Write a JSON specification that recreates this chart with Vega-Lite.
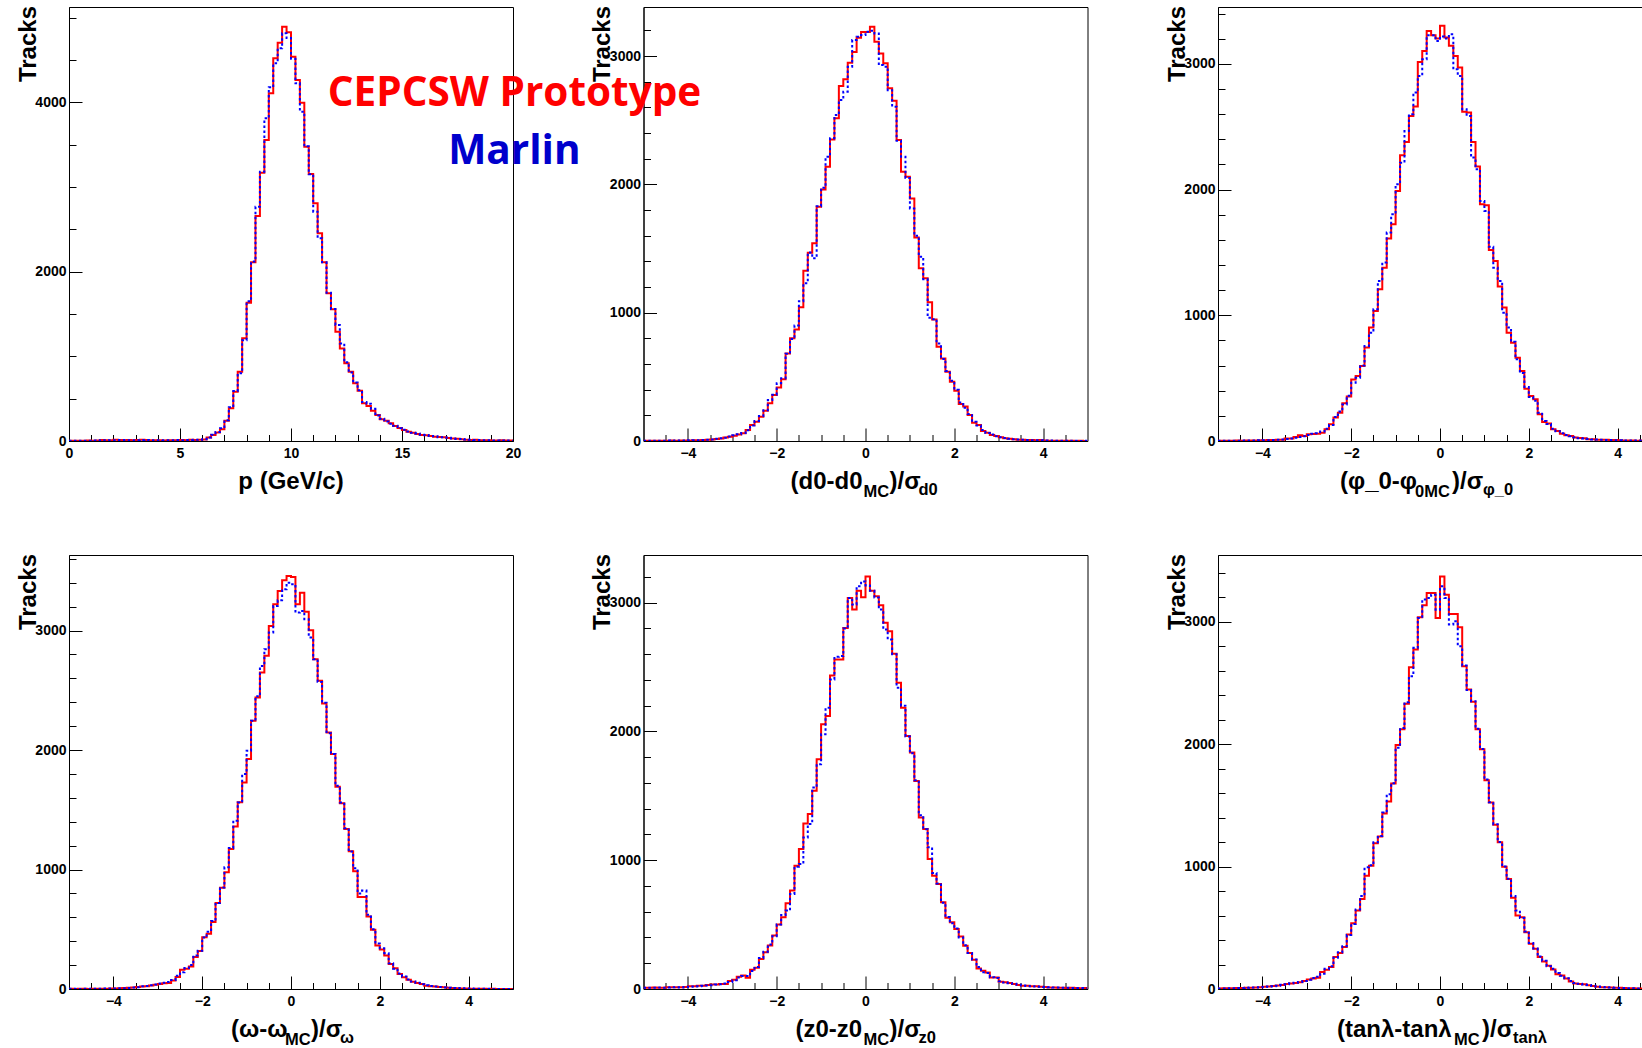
{
"$schema": "https://vega.github.io/schema/vega-lite/v6.json",
"autosize": {"type": "none"},
"padding": {"left": 69, "top": 7, "right": 1573, "bottom": 1041},
"background": "white",
"config": {
  "view": {"stroke": "#000", "strokeWidth": 1},
  "axis": {"grid": false, "labelFont": "Liberation Sans", "labelFontSize": 14, "labelFontWeight": "bold", "labelColor": "#000", "tickColor": "#000", "tickWidth": 1, "domainColor": "#000", "domainWidth": 1, "labelFlush": false, "labelOverlap": false, "titleFont": "Liberation Sans", "titleFontSize": 24, "titleFontWeight": "bold", "titleColor": "#000", "format": "d"},
  "text": {"font": "Liberation Sans", "fontWeight": "bold", "color": "#000"}
},
"datasets": {
"p1": [
{"x":0,"cepcsw":3,"marlin":2},{"x":0.2,"cepcsw":2,"marlin":3},{"x":0.4,"cepcsw":4,"marlin":3},{"x":0.6,"cepcsw":3,"marlin":4},{"x":0.8,"cepcsw":5,"marlin":4},{"x":1,"cepcsw":4,"marlin":6},{"x":1.2,"cepcsw":6,"marlin":5},{"x":1.4,"cepcsw":12,"marlin":8},{"x":1.6,"cepcsw":10,"marlin":9},{"x":1.8,"cepcsw":8,"marlin":10},
{"x":2,"cepcsw":14,"marlin":10},{"x":2.2,"cepcsw":12,"marlin":12},{"x":2.4,"cepcsw":10,"marlin":11},{"x":2.6,"cepcsw":12,"marlin":9},{"x":2.8,"cepcsw":9,"marlin":10},{"x":3,"cepcsw":11,"marlin":9},{"x":3.2,"cepcsw":14,"marlin":12},{"x":3.4,"cepcsw":12,"marlin":13},{"x":3.6,"cepcsw":9,"marlin":10},{"x":3.8,"cepcsw":10,"marlin":9},
{"x":4,"cepcsw":8,"marlin":9},{"x":4.2,"cepcsw":7,"marlin":8},{"x":4.4,"cepcsw":9,"marlin":8},{"x":4.6,"cepcsw":8,"marlin":9},{"x":4.8,"cepcsw":10,"marlin":11},{"x":5,"cepcsw":12,"marlin":10},{"x":5.2,"cepcsw":10,"marlin":12},{"x":5.4,"cepcsw":14,"marlin":13},{"x":5.6,"cepcsw":12,"marlin":14},{"x":5.8,"cepcsw":14,"marlin":16},
{"x":6,"cepcsw":18,"marlin":22},{"x":6.2,"cepcsw":40,"marlin":42},{"x":6.4,"cepcsw":70,"marlin":75},{"x":6.6,"cepcsw":100,"marlin":105},{"x":6.8,"cepcsw":140,"marlin":150},{"x":7,"cepcsw":240,"marlin":245},{"x":7.2,"cepcsw":386,"marlin":400},{"x":7.4,"cepcsw":583,"marlin":590},{"x":7.6,"cepcsw":819,"marlin":800},{"x":7.8,"cepcsw":1213,"marlin":1190},
{"x":8,"cepcsw":1634,"marlin":1650},{"x":8.2,"cepcsw":2110,"marlin":2120},{"x":8.4,"cepcsw":2657,"marlin":2767},{"x":8.6,"cepcsw":3169,"marlin":3180},{"x":8.8,"cepcsw":3555,"marlin":3811},{"x":9,"cepcsw":4106,"marlin":4177},{"x":9.2,"cepcsw":4520,"marlin":4461},{"x":9.4,"cepcsw":4705,"marlin":4638},{"x":9.6,"cepcsw":4894,"marlin":4815},{"x":9.8,"cepcsw":4827,"marlin":4760},
{"x":10,"cepcsw":4539,"marlin":4516},{"x":10.2,"cepcsw":4264,"marlin":4224},{"x":10.4,"cepcsw":3996,"marlin":3890},{"x":10.6,"cepcsw":3476,"marlin":3480},{"x":10.8,"cepcsw":3154,"marlin":3150},{"x":11,"cepcsw":2807,"marlin":2709},{"x":11.2,"cepcsw":2453,"marlin":2394},{"x":11.4,"cepcsw":2110,"marlin":2110},{"x":11.6,"cepcsw":1744,"marlin":1750},{"x":11.8,"cepcsw":1555,"marlin":1560},
{"x":12,"cepcsw":1291,"marlin":1370},{"x":12.2,"cepcsw":1094,"marlin":1153},{"x":12.4,"cepcsw":917,"marlin":930},{"x":12.6,"cepcsw":819,"marlin":810},{"x":12.8,"cepcsw":681,"marlin":690},{"x":13,"cepcsw":594,"marlin":600},{"x":13.2,"cepcsw":445,"marlin":460},{"x":13.4,"cepcsw":413,"marlin":440},{"x":13.6,"cepcsw":358,"marlin":380},{"x":13.8,"cepcsw":307,"marlin":300},
{"x":14,"cepcsw":256,"marlin":262},{"x":14.2,"cepcsw":240,"marlin":230},{"x":14.4,"cepcsw":209,"marlin":205},{"x":14.6,"cepcsw":177,"marlin":180},{"x":14.8,"cepcsw":154,"marlin":150},{"x":15,"cepcsw":130,"marlin":132},{"x":15.2,"cepcsw":110,"marlin":112},{"x":15.4,"cepcsw":98,"marlin":96},{"x":15.6,"cepcsw":83,"marlin":90},{"x":15.8,"cepcsw":71,"marlin":75},
{"x":16,"cepcsw":67,"marlin":72},{"x":16.2,"cepcsw":59,"marlin":60},{"x":16.4,"cepcsw":51,"marlin":55},{"x":16.6,"cepcsw":47,"marlin":45},{"x":16.8,"cepcsw":43,"marlin":44},{"x":17,"cepcsw":35,"marlin":38},{"x":17.2,"cepcsw":31,"marlin":30},{"x":17.4,"cepcsw":28,"marlin":25},{"x":17.6,"cepcsw":20,"marlin":25},{"x":17.8,"cepcsw":16,"marlin":18},
{"x":18,"cepcsw":12,"marlin":14},{"x":18.2,"cepcsw":14,"marlin":12},{"x":18.4,"cepcsw":10,"marlin":11},{"x":18.6,"cepcsw":8,"marlin":9},{"x":18.8,"cepcsw":9,"marlin":8},{"x":19,"cepcsw":7,"marlin":6},{"x":19.2,"cepcsw":6,"marlin":7},{"x":19.4,"cepcsw":8,"marlin":6},{"x":19.6,"cepcsw":5,"marlin":5},{"x":19.8,"cepcsw":6,"marlin":4},
{"x":20,"cepcsw":6,"marlin":4}
],
"p2": [
{"x":-5,"cepcsw":2,"marlin":1},{"x":-4.9,"cepcsw":1,"marlin":2},{"x":-4.8,"cepcsw":2,"marlin":1},{"x":-4.7,"cepcsw":1,"marlin":2},{"x":-4.6,"cepcsw":2,"marlin":2},{"x":-4.5,"cepcsw":2,"marlin":3},{"x":-4.4,"cepcsw":3,"marlin":2},{"x":-4.3,"cepcsw":2,"marlin":3},{"x":-4.2,"cepcsw":3,"marlin":4},{"x":-4.1,"cepcsw":4,"marlin":3},
{"x":-4,"cepcsw":4,"marlin":5},{"x":-3.9,"cepcsw":5,"marlin":6},{"x":-3.8,"cepcsw":6,"marlin":5},{"x":-3.7,"cepcsw":7,"marlin":8},{"x":-3.6,"cepcsw":9,"marlin":10},{"x":-3.5,"cepcsw":12,"marlin":11},{"x":-3.4,"cepcsw":16,"marlin":18},{"x":-3.3,"cepcsw":20,"marlin":22},{"x":-3.2,"cepcsw":27,"marlin":26},{"x":-3.1,"cepcsw":33,"marlin":35},
{"x":-3,"cepcsw":40,"marlin":44},{"x":-2.9,"cepcsw":50,"marlin":52},{"x":-2.8,"cepcsw":60,"marlin":62},{"x":-2.7,"cepcsw":86,"marlin":84},{"x":-2.6,"cepcsw":125,"marlin":120},{"x":-2.5,"cepcsw":151,"marlin":155},{"x":-2.4,"cepcsw":190,"marlin":195},{"x":-2.3,"cepcsw":236,"marlin":240},{"x":-2.2,"cepcsw":294,"marlin":320},{"x":-2.1,"cepcsw":359,"marlin":360},
{"x":-2,"cepcsw":418,"marlin":450},{"x":-1.9,"cepcsw":481,"marlin":490},{"x":-1.8,"cepcsw":683,"marlin":680},{"x":-1.7,"cepcsw":800,"marlin":795},{"x":-1.6,"cepcsw":870,"marlin":900},{"x":-1.5,"cepcsw":1042,"marlin":1090},{"x":-1.4,"cepcsw":1328,"marlin":1230},{"x":-1.3,"cepcsw":1468,"marlin":1470},{"x":-1.2,"cepcsw":1541,"marlin":1424},{"x":-1.1,"cepcsw":1826,"marlin":1830},
{"x":-1,"cepcsw":1961,"marlin":1975},{"x":-0.9,"cepcsw":2138,"marlin":2216},{"x":-0.8,"cepcsw":2351,"marlin":2360},{"x":-0.7,"cepcsw":2515,"marlin":2541},{"x":-0.6,"cepcsw":2767,"marlin":2658},{"x":-0.5,"cepcsw":2819,"marlin":2723},{"x":-0.4,"cepcsw":2949,"marlin":2918},{"x":-0.3,"cepcsw":3032,"marlin":3125},{"x":-0.2,"cepcsw":3144,"marlin":3151},{"x":-0.1,"cepcsw":3188,"marlin":3164},
{"x":0,"cepcsw":3188,"marlin":3190},{"x":0.1,"cepcsw":3229,"marlin":3198},{"x":0.2,"cepcsw":3112,"marlin":3177},{"x":0.3,"cepcsw":3021,"marlin":2930},{"x":0.4,"cepcsw":2944,"marlin":2918},{"x":0.5,"cepcsw":2749,"marlin":2735},{"x":0.6,"cepcsw":2653,"marlin":2606},{"x":0.7,"cepcsw":2346,"marlin":2340},{"x":0.8,"cepcsw":2099,"marlin":2216},{"x":0.9,"cepcsw":2060,"marlin":2050},
{"x":1,"cepcsw":1891,"marlin":1813},{"x":1.1,"cepcsw":1587,"marlin":1600},{"x":1.2,"cepcsw":1346,"marlin":1437},{"x":1.3,"cepcsw":1268,"marlin":1260},{"x":1.4,"cepcsw":1081,"marlin":960},{"x":1.5,"cepcsw":948,"marlin":950},{"x":1.6,"cepcsw":735,"marlin":760},{"x":1.7,"cepcsw":644,"marlin":640},{"x":1.8,"cepcsw":540,"marlin":545},{"x":1.9,"cepcsw":462,"marlin":470},
{"x":2,"cepcsw":392,"marlin":400},{"x":2.1,"cepcsw":288,"marlin":300},{"x":2.2,"cepcsw":268,"marlin":260},{"x":2.3,"cepcsw":203,"marlin":210},{"x":2.4,"cepcsw":143,"marlin":150},{"x":2.5,"cepcsw":125,"marlin":120},{"x":2.6,"cepcsw":78,"marlin":85},{"x":2.7,"cepcsw":65,"marlin":62},{"x":2.8,"cepcsw":47,"marlin":50},{"x":2.9,"cepcsw":39,"marlin":38},
{"x":3,"cepcsw":29,"marlin":30},{"x":3.1,"cepcsw":21,"marlin":24},{"x":3.2,"cepcsw":18,"marlin":17},{"x":3.3,"cepcsw":13,"marlin":14},{"x":3.4,"cepcsw":10,"marlin":11},{"x":3.5,"cepcsw":10,"marlin":9},{"x":3.6,"cepcsw":8,"marlin":7},{"x":3.7,"cepcsw":8,"marlin":6},{"x":3.8,"cepcsw":5,"marlin":6},{"x":3.9,"cepcsw":8,"marlin":5},
{"x":4,"cepcsw":3,"marlin":4},{"x":4.1,"cepcsw":2,"marlin":3},{"x":4.2,"cepcsw":2,"marlin":2},{"x":4.3,"cepcsw":1,"marlin":2},{"x":4.4,"cepcsw":2,"marlin":1},{"x":4.5,"cepcsw":1,"marlin":1},{"x":4.6,"cepcsw":1,"marlin":2},{"x":4.7,"cepcsw":0,"marlin":1},{"x":4.8,"cepcsw":1,"marlin":0},{"x":4.9,"cepcsw":0,"marlin":1},
{"x":5,"cepcsw":0,"marlin":1}
],
"p3": [
{"x":-5,"cepcsw":1,"marlin":2},{"x":-4.9,"cepcsw":2,"marlin":1},{"x":-4.8,"cepcsw":2,"marlin":2},{"x":-4.7,"cepcsw":1,"marlin":2},{"x":-4.6,"cepcsw":3,"marlin":2},{"x":-4.5,"cepcsw":2,"marlin":3},{"x":-4.4,"cepcsw":4,"marlin":3},{"x":-4.3,"cepcsw":3,"marlin":4},{"x":-4.2,"cepcsw":4,"marlin":4},{"x":-4.1,"cepcsw":5,"marlin":5},
{"x":-4,"cepcsw":5,"marlin":6},{"x":-3.9,"cepcsw":7,"marlin":6},{"x":-3.8,"cepcsw":8,"marlin":8},{"x":-3.7,"cepcsw":10,"marlin":9},{"x":-3.6,"cepcsw":10,"marlin":12},{"x":-3.5,"cepcsw":19,"marlin":15},{"x":-3.4,"cepcsw":19,"marlin":20},{"x":-3.3,"cepcsw":32,"marlin":25},{"x":-3.2,"cepcsw":45,"marlin":32},{"x":-3.1,"cepcsw":40,"marlin":38},
{"x":-3,"cepcsw":53,"marlin":48},{"x":-2.9,"cepcsw":55,"marlin":58},{"x":-2.8,"cepcsw":58,"marlin":62},{"x":-2.7,"cepcsw":66,"marlin":75},{"x":-2.6,"cepcsw":93,"marlin":98},{"x":-2.5,"cepcsw":133,"marlin":128},{"x":-2.4,"cepcsw":186,"marlin":190},{"x":-2.3,"cepcsw":225,"marlin":235},{"x":-2.2,"cepcsw":300,"marlin":290},{"x":-2.1,"cepcsw":353,"marlin":360},
{"x":-2,"cepcsw":490,"marlin":464},{"x":-1.9,"cepcsw":517,"marlin":504},{"x":-1.8,"cepcsw":597,"marlin":600},{"x":-1.7,"cepcsw":743,"marlin":756},{"x":-1.6,"cepcsw":902,"marlin":862},{"x":-1.5,"cepcsw":1034,"marlin":1048},{"x":-1.4,"cepcsw":1207,"marlin":1273},{"x":-1.3,"cepcsw":1379,"marlin":1419},{"x":-1.2,"cepcsw":1610,"marlin":1658},{"x":-1.1,"cepcsw":1724,"marlin":1803},
{"x":-1,"cepcsw":1989,"marlin":2042},{"x":-0.9,"cepcsw":2273,"marlin":2214},{"x":-0.8,"cepcsw":2379,"marlin":2466},{"x":-0.7,"cepcsw":2586,"marlin":2599},{"x":-0.6,"cepcsw":2660,"marlin":2771},{"x":-0.5,"cepcsw":3015,"marlin":2904},{"x":-0.4,"cepcsw":3103,"marlin":3036},{"x":-0.3,"cepcsw":3262,"marlin":3228},{"x":-0.2,"cepcsw":3228,"marlin":3228},{"x":-0.1,"cepcsw":3201,"marlin":3182},
{"x":0,"cepcsw":3302,"marlin":3217},{"x":0.1,"cepcsw":3209,"marlin":3201},{"x":0.2,"cepcsw":3143,"marlin":3235},{"x":0.3,"cepcsw":3063,"marlin":2957},{"x":0.4,"cepcsw":2970,"marlin":2904},{"x":0.5,"cepcsw":2618,"marlin":2639},{"x":0.6,"cepcsw":2612,"marlin":2586},{"x":0.7,"cepcsw":2379,"marlin":2254},{"x":0.8,"cepcsw":2183,"marlin":2161},{"x":0.9,"cepcsw":1883,"marlin":1909},
{"x":1,"cepcsw":1875,"marlin":1830},{"x":1.1,"cepcsw":1520,"marlin":1545},{"x":1.2,"cepcsw":1432,"marlin":1379},{"x":1.3,"cepcsw":1228,"marlin":1273},{"x":1.4,"cepcsw":1061,"marlin":1021},{"x":1.5,"cepcsw":862,"marlin":902},{"x":1.6,"cepcsw":782,"marlin":790},{"x":1.7,"cepcsw":663,"marlin":650},{"x":1.8,"cepcsw":557,"marlin":540},{"x":1.9,"cepcsw":416,"marlin":430},
{"x":2,"cepcsw":358,"marlin":350},{"x":2.1,"cepcsw":332,"marlin":320},{"x":2.2,"cepcsw":212,"marlin":225},{"x":2.3,"cepcsw":151,"marlin":160},{"x":2.4,"cepcsw":140,"marlin":135},{"x":2.5,"cepcsw":93,"marlin":98},{"x":2.6,"cepcsw":80,"marlin":78},{"x":2.7,"cepcsw":58,"marlin":62},{"x":2.8,"cepcsw":45,"marlin":48},{"x":2.9,"cepcsw":40,"marlin":38},
{"x":3,"cepcsw":27,"marlin":30},{"x":3.1,"cepcsw":24,"marlin":22},{"x":3.2,"cepcsw":21,"marlin":20},{"x":3.3,"cepcsw":13,"marlin":16},{"x":3.4,"cepcsw":13,"marlin":12},{"x":3.5,"cepcsw":10,"marlin":11},{"x":3.6,"cepcsw":10,"marlin":9},{"x":3.7,"cepcsw":9,"marlin":8},{"x":3.8,"cepcsw":8,"marlin":7},{"x":3.9,"cepcsw":7,"marlin":6},
{"x":4,"cepcsw":5,"marlin":5},{"x":4.1,"cepcsw":4,"marlin":4},{"x":4.2,"cepcsw":3,"marlin":4},{"x":4.3,"cepcsw":4,"marlin":3},{"x":4.4,"cepcsw":2,"marlin":3},{"x":4.5,"cepcsw":3,"marlin":2},{"x":4.6,"cepcsw":2,"marlin":2},{"x":4.7,"cepcsw":1,"marlin":2},{"x":4.8,"cepcsw":2,"marlin":1},{"x":4.9,"cepcsw":1,"marlin":1},
{"x":5,"cepcsw":1,"marlin":1}
],
"p4": [
{"x":-5,"cepcsw":2,"marlin":2},{"x":-4.9,"cepcsw":1,"marlin":2},{"x":-4.8,"cepcsw":2,"marlin":1},{"x":-4.7,"cepcsw":2,"marlin":2},{"x":-4.6,"cepcsw":1,"marlin":2},{"x":-4.5,"cepcsw":3,"marlin":2},{"x":-4.4,"cepcsw":2,"marlin":3},{"x":-4.3,"cepcsw":3,"marlin":3},{"x":-4.2,"cepcsw":3,"marlin":4},{"x":-4.1,"cepcsw":4,"marlin":4},
{"x":-4,"cepcsw":5,"marlin":5},{"x":-3.9,"cepcsw":6,"marlin":6},{"x":-3.8,"cepcsw":8,"marlin":7},{"x":-3.7,"cepcsw":10,"marlin":9},{"x":-3.6,"cepcsw":13,"marlin":12},{"x":-3.5,"cepcsw":16,"marlin":15},{"x":-3.4,"cepcsw":20,"marlin":22},{"x":-3.3,"cepcsw":24,"marlin":26},{"x":-3.2,"cepcsw":30,"marlin":32},{"x":-3.1,"cepcsw":35,"marlin":38},
{"x":-3,"cepcsw":42,"marlin":45},{"x":-2.9,"cepcsw":48,"marlin":52},{"x":-2.8,"cepcsw":50,"marlin":58},{"x":-2.7,"cepcsw":72,"marlin":75},{"x":-2.6,"cepcsw":100,"marlin":110},{"x":-2.5,"cepcsw":162,"marlin":140},{"x":-2.4,"cepcsw":170,"marlin":175},{"x":-2.3,"cepcsw":189,"marlin":200},{"x":-2.2,"cepcsw":267,"marlin":280},{"x":-2.1,"cepcsw":317,"marlin":320},
{"x":-2,"cepcsw":434,"marlin":430},{"x":-1.9,"cepcsw":462,"marlin":480},{"x":-1.8,"cepcsw":560,"marlin":570},{"x":-1.7,"cepcsw":719,"marlin":720},{"x":-1.6,"cepcsw":847,"marlin":850},{"x":-1.5,"cepcsw":978,"marlin":1019},{"x":-1.4,"cepcsw":1172,"marlin":1180},{"x":-1.3,"cepcsw":1359,"marlin":1409},{"x":-1.2,"cepcsw":1562,"marlin":1560},{"x":-1.1,"cepcsw":1729,"marlin":1799},
{"x":-1,"cepcsw":1924,"marlin":1994},{"x":-0.9,"cepcsw":2245,"marlin":2245},{"x":-0.8,"cepcsw":2440,"marlin":2450},{"x":-0.7,"cepcsw":2649,"marlin":2704},{"x":-0.6,"cepcsw":2788,"marlin":2843},{"x":-0.5,"cepcsw":3038,"marlin":2983},{"x":-0.4,"cepcsw":3219,"marlin":3205},{"x":-0.3,"cepcsw":3331,"marlin":3253},{"x":-0.2,"cepcsw":3420,"marlin":3345},{"x":-0.1,"cepcsw":3456,"marlin":3400},
{"x":0,"cepcsw":3448,"marlin":3387},{"x":0.1,"cepcsw":3219,"marlin":3150},{"x":0.2,"cepcsw":3317,"marlin":3164},{"x":0.3,"cepcsw":3158,"marlin":3094},{"x":0.4,"cepcsw":3002,"marlin":2941},{"x":0.5,"cepcsw":2760,"marlin":2760},{"x":0.6,"cepcsw":2579,"marlin":2570},{"x":0.7,"cepcsw":2390,"marlin":2395},{"x":0.8,"cepcsw":2147,"marlin":2140},{"x":0.9,"cepcsw":1966,"marlin":1966},
{"x":1,"cepcsw":1693,"marlin":1700},{"x":1.1,"cepcsw":1554,"marlin":1560},{"x":1.2,"cepcsw":1340,"marlin":1345},{"x":1.3,"cepcsw":1153,"marlin":1150},{"x":1.4,"cepcsw":986,"marlin":1010},{"x":1.5,"cepcsw":769,"marlin":800},{"x":1.6,"cepcsw":769,"marlin":824},{"x":1.7,"cepcsw":607,"marlin":621},{"x":1.8,"cepcsw":496,"marlin":500},{"x":1.9,"cepcsw":365,"marlin":380},
{"x":2,"cepcsw":330,"marlin":340},{"x":2.1,"cepcsw":280,"marlin":300},{"x":2.2,"cepcsw":209,"marlin":215},{"x":2.3,"cepcsw":173,"marlin":170},{"x":2.4,"cepcsw":126,"marlin":130},{"x":2.5,"cepcsw":98,"marlin":105},{"x":2.6,"cepcsw":78,"marlin":80},{"x":2.7,"cepcsw":61,"marlin":62},{"x":2.8,"cepcsw":50,"marlin":52},{"x":2.9,"cepcsw":42,"marlin":40},
{"x":3,"cepcsw":28,"marlin":32},{"x":3.1,"cepcsw":22,"marlin":25},{"x":3.2,"cepcsw":20,"marlin":20},{"x":3.3,"cepcsw":17,"marlin":16},{"x":3.4,"cepcsw":14,"marlin":13},{"x":3.5,"cepcsw":11,"marlin":11},{"x":3.6,"cepcsw":8,"marlin":9},{"x":3.7,"cepcsw":7,"marlin":8},{"x":3.8,"cepcsw":5,"marlin":6},{"x":3.9,"cepcsw":4,"marlin":5},
{"x":4,"cepcsw":3,"marlin":4},{"x":4.1,"cepcsw":2,"marlin":3},{"x":4.2,"cepcsw":3,"marlin":2},{"x":4.3,"cepcsw":2,"marlin":2},{"x":4.4,"cepcsw":1,"marlin":2},{"x":4.5,"cepcsw":2,"marlin":1},{"x":4.6,"cepcsw":1,"marlin":1},{"x":4.7,"cepcsw":1,"marlin":1},{"x":4.8,"cepcsw":1,"marlin":1},{"x":4.9,"cepcsw":0,"marlin":1},
{"x":5,"cepcsw":0,"marlin":1}
],
"p5": [
{"x":-5,"cepcsw":10,"marlin":9},{"x":-4.9,"cepcsw":10,"marlin":10},{"x":-4.8,"cepcsw":11,"marlin":10},{"x":-4.7,"cepcsw":10,"marlin":11},{"x":-4.6,"cepcsw":10,"marlin":10},{"x":-4.5,"cepcsw":13,"marlin":12},{"x":-4.4,"cepcsw":13,"marlin":13},{"x":-4.3,"cepcsw":13,"marlin":14},{"x":-4.2,"cepcsw":13,"marlin":12},{"x":-4.1,"cepcsw":16,"marlin":15},
{"x":-4,"cepcsw":21,"marlin":18},{"x":-3.9,"cepcsw":21,"marlin":20},{"x":-3.8,"cepcsw":26,"marlin":22},{"x":-3.7,"cepcsw":26,"marlin":25},{"x":-3.6,"cepcsw":31,"marlin":28},{"x":-3.5,"cepcsw":34,"marlin":30},{"x":-3.4,"cepcsw":34,"marlin":34},{"x":-3.3,"cepcsw":39,"marlin":36},{"x":-3.2,"cepcsw":39,"marlin":42},{"x":-3.1,"cepcsw":62,"marlin":55},
{"x":-3,"cepcsw":72,"marlin":68},{"x":-2.9,"cepcsw":95,"marlin":90},{"x":-2.8,"cepcsw":105,"marlin":100},{"x":-2.7,"cepcsw":88,"marlin":100},{"x":-2.6,"cepcsw":150,"marlin":140},{"x":-2.5,"cepcsw":165,"marlin":170},{"x":-2.4,"cepcsw":232,"marlin":240},{"x":-2.3,"cepcsw":286,"marlin":290},{"x":-2.2,"cepcsw":338,"marlin":345},{"x":-2.1,"cepcsw":415,"marlin":410},
{"x":-2,"cepcsw":501,"marlin":500},{"x":-1.9,"cepcsw":558,"marlin":575},{"x":-1.8,"cepcsw":666,"marlin":609},{"x":-1.7,"cepcsw":764,"marlin":738},{"x":-1.6,"cepcsw":958,"marlin":950},{"x":-1.5,"cepcsw":1087,"marlin":971},{"x":-1.4,"cepcsw":1286,"marlin":1177},{"x":-1.3,"cepcsw":1358,"marlin":1281},{"x":-1.2,"cepcsw":1539,"marlin":1565},{"x":-1.1,"cepcsw":1784,"marlin":1745},
{"x":-1,"cepcsw":2055,"marlin":1978},{"x":-0.9,"cepcsw":2120,"marlin":2184},{"x":-0.8,"cepcsw":2435,"marlin":2404},{"x":-0.7,"cepcsw":2559,"marlin":2580},{"x":-0.6,"cepcsw":2559,"marlin":2585},{"x":-0.5,"cepcsw":2804,"marlin":2800},{"x":-0.4,"cepcsw":3036,"marlin":3036},{"x":-0.3,"cepcsw":2946,"marlin":2985},{"x":-0.2,"cepcsw":3093,"marlin":3127},{"x":-0.1,"cepcsw":3042,"marlin":3165},
{"x":0,"cepcsw":3204,"marlin":3134},{"x":0.1,"cepcsw":3093,"marlin":3093},{"x":0.2,"cepcsw":3049,"marlin":3040},{"x":0.3,"cepcsw":2979,"marlin":2946},{"x":0.4,"cepcsw":2843,"marlin":2791},{"x":0.5,"cepcsw":2778,"marlin":2714},{"x":0.6,"cepcsw":2603,"marlin":2600},{"x":0.7,"cepcsw":2378,"marlin":2339},{"x":0.8,"cepcsw":2184,"marlin":2200},{"x":0.9,"cepcsw":1965,"marlin":1960},
{"x":1,"cepcsw":1836,"marlin":1830},{"x":1.1,"cepcsw":1616,"marlin":1620},{"x":1.2,"cepcsw":1332,"marlin":1350},{"x":1.3,"cepcsw":1242,"marlin":1240},{"x":1.4,"cepcsw":1010,"marlin":1100},{"x":1.5,"cepcsw":880,"marlin":900},{"x":1.6,"cepcsw":816,"marlin":820},{"x":1.7,"cepcsw":674,"marlin":670},{"x":1.8,"cepcsw":553,"marlin":560},{"x":1.9,"cepcsw":519,"marlin":510},
{"x":2,"cepcsw":465,"marlin":470},{"x":2.1,"cepcsw":408,"marlin":400},{"x":2.2,"cepcsw":336,"marlin":340},{"x":2.3,"cepcsw":279,"marlin":280},{"x":2.4,"cepcsw":227,"marlin":230},{"x":2.5,"cepcsw":160,"marlin":170},{"x":2.6,"cepcsw":142,"marlin":130},{"x":2.7,"cepcsw":129,"marlin":125},{"x":2.8,"cepcsw":90,"marlin":92},{"x":2.9,"cepcsw":90,"marlin":85},
{"x":3,"cepcsw":57,"marlin":60},{"x":3.1,"cepcsw":52,"marlin":50},{"x":3.2,"cepcsw":47,"marlin":45},{"x":3.3,"cepcsw":39,"marlin":40},{"x":3.4,"cepcsw":31,"marlin":33},{"x":3.5,"cepcsw":26,"marlin":28},{"x":3.6,"cepcsw":26,"marlin":24},{"x":3.7,"cepcsw":21,"marlin":22},{"x":3.8,"cepcsw":21,"marlin":19},{"x":3.9,"cepcsw":18,"marlin":17},
{"x":4,"cepcsw":16,"marlin":15},{"x":4.1,"cepcsw":12,"marlin":13},{"x":4.2,"cepcsw":12,"marlin":11},{"x":4.3,"cepcsw":10,"marlin":11},{"x":4.4,"cepcsw":10,"marlin":9},{"x":4.5,"cepcsw":8,"marlin":9},{"x":4.6,"cepcsw":9,"marlin":8},{"x":4.7,"cepcsw":8,"marlin":7},{"x":4.8,"cepcsw":6,"marlin":7},{"x":4.9,"cepcsw":7,"marlin":6},
{"x":5,"cepcsw":7,"marlin":6}
],
"p6": [
{"x":-5,"cepcsw":5,"marlin":5},{"x":-4.9,"cepcsw":6,"marlin":5},{"x":-4.8,"cepcsw":6,"marlin":7},{"x":-4.7,"cepcsw":7,"marlin":6},{"x":-4.6,"cepcsw":8,"marlin":8},{"x":-4.5,"cepcsw":9,"marlin":8},{"x":-4.4,"cepcsw":10,"marlin":10},{"x":-4.3,"cepcsw":11,"marlin":12},{"x":-4.2,"cepcsw":13,"marlin":12},{"x":-4.1,"cepcsw":15,"marlin":14},
{"x":-4,"cepcsw":18,"marlin":17},{"x":-3.9,"cepcsw":20,"marlin":21},{"x":-3.8,"cepcsw":24,"marlin":23},{"x":-3.7,"cepcsw":28,"marlin":27},{"x":-3.6,"cepcsw":33,"marlin":34},{"x":-3.5,"cepcsw":40,"marlin":38},{"x":-3.4,"cepcsw":45,"marlin":46},{"x":-3.3,"cepcsw":50,"marlin":52},{"x":-3.2,"cepcsw":55,"marlin":58},{"x":-3.1,"cepcsw":65,"marlin":66},
{"x":-3,"cepcsw":78,"marlin":75},{"x":-2.9,"cepcsw":85,"marlin":90},{"x":-2.8,"cepcsw":92,"marlin":100},{"x":-2.7,"cepcsw":138,"marlin":125},{"x":-2.6,"cepcsw":157,"marlin":165},{"x":-2.5,"cepcsw":179,"marlin":185},{"x":-2.4,"cepcsw":261,"marlin":255},{"x":-2.3,"cepcsw":293,"marlin":300},{"x":-2.2,"cepcsw":342,"marlin":350},{"x":-2.1,"cepcsw":445,"marlin":440},
{"x":-2,"cepcsw":537,"marlin":530},{"x":-1.9,"cepcsw":641,"marlin":650},{"x":-1.8,"cepcsw":735,"marlin":760},{"x":-1.7,"cepcsw":925,"marlin":993},{"x":-1.6,"cepcsw":1007,"marlin":1010},{"x":-1.5,"cepcsw":1190,"marlin":1197},{"x":-1.4,"cepcsw":1245,"marlin":1250},{"x":-1.3,"cepcsw":1433,"marlin":1440},{"x":-1.2,"cepcsw":1531,"marlin":1590},{"x":-1.1,"cepcsw":1677,"marlin":1680},
{"x":-1,"cepcsw":1992,"marlin":1970},{"x":-0.9,"cepcsw":2120,"marlin":2130},{"x":-0.8,"cepcsw":2329,"marlin":2340},{"x":-0.7,"cepcsw":2627,"marlin":2554},{"x":-0.6,"cepcsw":2771,"marlin":2785},{"x":-0.5,"cepcsw":3034,"marlin":3029},{"x":-0.4,"cepcsw":3132,"marlin":3180},{"x":-0.3,"cepcsw":3232,"marlin":3192},{"x":-0.2,"cepcsw":3232,"marlin":3219},{"x":-0.1,"cepcsw":3029,"marlin":3097},
{"x":0,"cepcsw":3368,"marlin":3287},{"x":0.1,"cepcsw":3219,"marlin":3192},{"x":0.2,"cepcsw":3061,"marlin":2975},{"x":0.3,"cepcsw":3061,"marlin":3002},{"x":0.4,"cepcsw":2953,"marlin":2798},{"x":0.5,"cepcsw":2635,"marlin":2640},{"x":0.6,"cepcsw":2445,"marlin":2440},{"x":0.7,"cepcsw":2345,"marlin":2350},{"x":0.8,"cepcsw":2120,"marlin":2125},{"x":0.9,"cepcsw":1957,"marlin":1960},
{"x":1,"cepcsw":1704,"marlin":1710},{"x":1.1,"cepcsw":1523,"marlin":1525},{"x":1.2,"cepcsw":1341,"marlin":1345},{"x":1.3,"cepcsw":1197,"marlin":1200},{"x":1.4,"cepcsw":999,"marlin":1000},{"x":1.5,"cepcsw":898,"marlin":900},{"x":1.6,"cepcsw":744,"marlin":760},{"x":1.7,"cepcsw":600,"marlin":640},{"x":1.8,"cepcsw":586,"marlin":580},{"x":1.9,"cepcsw":464,"marlin":470},
{"x":2,"cepcsw":369,"marlin":375},{"x":2.1,"cepcsw":328,"marlin":330},{"x":2.2,"cepcsw":261,"marlin":265},{"x":2.3,"cepcsw":225,"marlin":230},{"x":2.4,"cepcsw":190,"marlin":185},{"x":2.5,"cepcsw":160,"marlin":165},{"x":2.6,"cepcsw":120,"marlin":130},{"x":2.7,"cepcsw":110,"marlin":108},{"x":2.8,"cepcsw":85,"marlin":88},{"x":2.9,"cepcsw":62,"marlin":65},
{"x":3,"cepcsw":45,"marlin":50},{"x":3.1,"cepcsw":40,"marlin":42},{"x":3.2,"cepcsw":38,"marlin":36},{"x":3.3,"cepcsw":30,"marlin":32},{"x":3.4,"cepcsw":25,"marlin":26},{"x":3.5,"cepcsw":18,"marlin":20},{"x":3.6,"cepcsw":15,"marlin":17},{"x":3.7,"cepcsw":14,"marlin":14},{"x":3.8,"cepcsw":12,"marlin":12},{"x":3.9,"cepcsw":10,"marlin":11},
{"x":4,"cepcsw":10,"marlin":9},{"x":4.1,"cepcsw":8,"marlin":8},{"x":4.2,"cepcsw":5,"marlin":7},{"x":4.3,"cepcsw":6,"marlin":6},{"x":4.4,"cepcsw":4,"marlin":5},{"x":4.5,"cepcsw":5,"marlin":4},{"x":4.6,"cepcsw":3,"marlin":4},{"x":4.7,"cepcsw":3,"marlin":3},{"x":4.8,"cepcsw":2,"marlin":3},{"x":4.9,"cepcsw":2,"marlin":2},
{"x":5,"cepcsw":2,"marlin":2}
]
},
"columns": 3,
"spacing": {"row": 114, "column": 130.5},
"bounds": "flush",
"concat": [
{
 "width": 444, "height": 434,
 "layer": [
  {"data": {"name": "p1"}, "mark": {"type": "line", "interpolate": "step-after", "color": "#ff0000", "strokeWidth": 2, "clip": true},
   "encoding": {
    "x": {"field": "x", "type": "quantitative", "scale": {"domain": [0, 20], "nice": false, "zero": false}, "axis": {"orient": "bottom", "values": [0, 5, 10, 15, 20], "tickSize": -13, "labelPadding": 18.5, "title": null}},
    "y": {"field": "cepcsw", "type": "quantitative", "scale": {"domain": [0, 5126], "nice": false}, "axis": {"orient": "left", "values": [0, 2000, 4000], "tickSize": -13, "labelPadding": 16, "title": "Tracks", "titleAngle": 270, "titleAlign": "right", "titleBaseline": "alphabetic", "titleX": -34, "titleY": -1.5}}
   }},
  {"data": {"name": "p1"}, "mark": {"type": "line", "interpolate": "step-after", "color": "#0000ff", "strokeWidth": 2, "strokeDash": [2.5, 2.5], "clip": true},
   "encoding": {
    "x": {"field": "x", "type": "quantitative", "scale": {"domain": [0, 20], "nice": false, "zero": false}, "axis": {"orient": "bottom", "values": [1, 2, 3, 4, 6, 7, 8, 9, 11, 12, 13, 14, 16, 17, 18, 19], "tickSize": -6.5, "labels": false, "domain": false, "title": null}},
    "y": {"field": "marlin", "type": "quantitative", "scale": {"domain": [0, 5126], "nice": false}, "axis": {"orient": "left", "values": [500, 1000, 1500, 2500, 3000, 3500, 4500, 5000], "tickSize": -7, "labels": false, "domain": false, "title": null}}
   }},
  {"data": {"values": [{}]}, "mark": {"type": "text", "align": "center", "baseline": "alphabetic", "fontSize": 24, "dy": 48},
   "encoding": {"x": {"datum": 10, "type": "quantitative", "axis": null}, "y": {"datum": 0, "type": "quantitative", "axis": null}, "text": {"value": "p (GeV/c)"}}}
 ],
 "resolve": {"axis": {"x": "independent", "y": "independent"}}
},
{
 "width": 444, "height": 434,
 "layer": [
  {"data": {"name": "p2"}, "mark": {"type": "line", "interpolate": "step-after", "color": "#ff0000", "strokeWidth": 2, "clip": true},
   "encoding": {
    "x": {"field": "x", "type": "quantitative", "scale": {"domain": [-5, 5], "nice": false, "zero": false}, "axis": {"orient": "bottom", "values": [-4, -2, 0, 2, 4], "tickSize": -13, "labelPadding": 18.5, "title": null}},
    "y": {"field": "cepcsw", "type": "quantitative", "scale": {"domain": [0, 3383], "nice": false}, "axis": {"orient": "left", "values": [0, 1000, 2000, 3000], "tickSize": -13, "labelPadding": 16, "title": "Tracks", "titleAngle": 270, "titleAlign": "right", "titleBaseline": "alphabetic", "titleX": -34, "titleY": -1.5}}
   }},
  {"data": {"name": "p2"}, "mark": {"type": "line", "interpolate": "step-after", "color": "#0000ff", "strokeWidth": 2, "strokeDash": [2.5, 2.5], "clip": true},
   "encoding": {
    "x": {"field": "x", "type": "quantitative", "scale": {"domain": [-5, 5], "nice": false, "zero": false}, "axis": {"orient": "bottom", "values": [-4.5, -3.5, -3, -2.5, -1.5, -1, -0.5, 0.5, 1, 1.5, 2.5, 3, 3.5, 4.5], "tickSize": -6.5, "labels": false, "domain": false, "title": null}},
    "y": {"field": "marlin", "type": "quantitative", "scale": {"domain": [0, 3383], "nice": false}, "axis": {"orient": "left", "values": [200, 400, 600, 800, 1200, 1400, 1600, 1800, 2200, 2400, 2600, 2800, 3200], "tickSize": -7, "labels": false, "domain": false, "title": null}}
   }},
  {"data": {"values": [{}]}, "mark": {"type": "text", "align": "left", "baseline": "alphabetic", "fontSize": 24, "dx": -75, "dy": 48},
   "encoding": {"x": {"datum": 0, "type": "quantitative", "axis": null}, "y": {"datum": 0, "type": "quantitative", "axis": null}, "text": {"value": "(d0-d0"}}},
  {"data": {"values": [{}]}, "mark": {"type": "text", "align": "left", "baseline": "alphabetic", "fontSize": 16.5, "dx": -2, "dy": 56},
   "encoding": {"x": {"datum": 0, "type": "quantitative", "axis": null}, "y": {"datum": 0, "type": "quantitative", "axis": null}, "text": {"value": "MC"}}},
  {"data": {"values": [{}]}, "mark": {"type": "text", "align": "left", "baseline": "alphabetic", "fontSize": 24, "dx": 24, "dy": 48},
   "encoding": {"x": {"datum": 0, "type": "quantitative", "axis": null}, "y": {"datum": 0, "type": "quantitative", "axis": null}, "text": {"value": ")/σ"}}},
  {"data": {"values": [{}]}, "mark": {"type": "text", "align": "left", "baseline": "alphabetic", "fontSize": 16.5, "dx": 53, "dy": 54},
   "encoding": {"x": {"datum": 0, "type": "quantitative", "axis": null}, "y": {"datum": 0, "type": "quantitative", "axis": null}, "text": {"value": "d0"}}},
  {"data": {"values": [{}]}, "mark": {"type": "text", "align": "left", "baseline": "alphabetic", "font": "Open Sans", "fontWeight": "bold", "fontSize": 40.5, "color": "#ff0000"},
   "encoding": {"x": {"datum": -12.11, "type": "quantitative", "axis": null}, "y": {"datum": 2613, "type": "quantitative", "axis": null}, "text": {"value": "CEPCSW Prototype"}}},
  {"data": {"values": [{}]}, "mark": {"type": "text", "align": "left", "baseline": "alphabetic", "font": "Open Sans", "fontWeight": "bold", "fontSize": 40.5, "color": "#0000cc"},
   "encoding": {"x": {"datum": -9.4, "type": "quantitative", "axis": null}, "y": {"datum": 2159, "type": "quantitative", "axis": null}, "text": {"value": "Marlin"}}}
 ],
 "resolve": {"axis": {"x": "independent", "y": "independent"}}
},
{
 "width": 444, "height": 434,
 "layer": [
  {"data": {"name": "p3"}, "mark": {"type": "line", "interpolate": "step-after", "color": "#ff0000", "strokeWidth": 2, "clip": true},
   "encoding": {
    "x": {"field": "x", "type": "quantitative", "scale": {"domain": [-5, 5], "nice": false, "zero": false}, "axis": {"orient": "bottom", "values": [-4, -2, 0, 2, 4], "tickSize": -13, "labelPadding": 18.5, "title": null}},
    "y": {"field": "cepcsw", "type": "quantitative", "scale": {"domain": [0, 3452], "nice": false}, "axis": {"orient": "left", "values": [0, 1000, 2000, 3000], "tickSize": -13, "labelPadding": 16, "title": "Tracks", "titleAngle": 270, "titleAlign": "right", "titleBaseline": "alphabetic", "titleX": -34, "titleY": -1.5}}
   }},
  {"data": {"name": "p3"}, "mark": {"type": "line", "interpolate": "step-after", "color": "#0000ff", "strokeWidth": 2, "strokeDash": [2.5, 2.5], "clip": true},
   "encoding": {
    "x": {"field": "x", "type": "quantitative", "scale": {"domain": [-5, 5], "nice": false, "zero": false}, "axis": {"orient": "bottom", "values": [-4.5, -3.5, -3, -2.5, -1.5, -1, -0.5, 0.5, 1, 1.5, 2.5, 3, 3.5, 4.5], "tickSize": -6.5, "labels": false, "domain": false, "title": null}},
    "y": {"field": "marlin", "type": "quantitative", "scale": {"domain": [0, 3452], "nice": false}, "axis": {"orient": "left", "values": [200, 400, 600, 800, 1200, 1400, 1600, 1800, 2200, 2400, 2600, 2800, 3200, 3400], "tickSize": -7, "labels": false, "domain": false, "title": null}}
   }},
  {"data": {"values": [{}]}, "mark": {"type": "text", "align": "left", "baseline": "alphabetic", "fontSize": 24, "dx": -100, "dy": 48},
   "encoding": {"x": {"datum": 0, "type": "quantitative", "axis": null}, "y": {"datum": 0, "type": "quantitative", "axis": null}, "text": {"value": "(φ_0-φ"}}},
  {"data": {"values": [{}]}, "mark": {"type": "text", "align": "left", "baseline": "alphabetic", "fontSize": 16.5, "dx": -25, "dy": 56},
   "encoding": {"x": {"datum": 0, "type": "quantitative", "axis": null}, "y": {"datum": 0, "type": "quantitative", "axis": null}, "text": {"value": "0MC"}}},
  {"data": {"values": [{}]}, "mark": {"type": "text", "align": "left", "baseline": "alphabetic", "fontSize": 24, "dx": 12, "dy": 48},
   "encoding": {"x": {"datum": 0, "type": "quantitative", "axis": null}, "y": {"datum": 0, "type": "quantitative", "axis": null}, "text": {"value": ")/σ"}}},
  {"data": {"values": [{}]}, "mark": {"type": "text", "align": "left", "baseline": "alphabetic", "fontSize": 16.5, "dx": 43, "dy": 54},
   "encoding": {"x": {"datum": 0, "type": "quantitative", "axis": null}, "y": {"datum": 0, "type": "quantitative", "axis": null}, "text": {"value": "φ_0"}}}
 ],
 "resolve": {"axis": {"x": "independent", "y": "independent"}}
},
{
 "width": 444, "height": 434,
 "layer": [
  {"data": {"name": "p4"}, "mark": {"type": "line", "interpolate": "step-after", "color": "#ff0000", "strokeWidth": 2, "clip": true},
   "encoding": {
    "x": {"field": "x", "type": "quantitative", "scale": {"domain": [-5, 5], "nice": false, "zero": false}, "axis": {"orient": "bottom", "values": [-4, -2, 0, 2, 4], "tickSize": -13, "labelPadding": 18.5, "title": null}},
    "y": {"field": "cepcsw", "type": "quantitative", "scale": {"domain": [0, 3632], "nice": false}, "axis": {"orient": "left", "values": [0, 1000, 2000, 3000], "tickSize": -13, "labelPadding": 16, "title": "Tracks", "titleAngle": 270, "titleAlign": "right", "titleBaseline": "alphabetic", "titleX": -34, "titleY": -1.5}}
   }},
  {"data": {"name": "p4"}, "mark": {"type": "line", "interpolate": "step-after", "color": "#0000ff", "strokeWidth": 2, "strokeDash": [2.5, 2.5], "clip": true},
   "encoding": {
    "x": {"field": "x", "type": "quantitative", "scale": {"domain": [-5, 5], "nice": false, "zero": false}, "axis": {"orient": "bottom", "values": [-4.5, -3.5, -3, -2.5, -1.5, -1, -0.5, 0.5, 1, 1.5, 2.5, 3, 3.5, 4.5], "tickSize": -6.5, "labels": false, "domain": false, "title": null}},
    "y": {"field": "marlin", "type": "quantitative", "scale": {"domain": [0, 3632], "nice": false}, "axis": {"orient": "left", "values": [200, 400, 600, 800, 1200, 1400, 1600, 1800, 2200, 2400, 2600, 2800, 3200, 3400, 3600], "tickSize": -7, "labels": false, "domain": false, "title": null}}
   }},
  {"data": {"values": [{}]}, "mark": {"type": "text", "align": "left", "baseline": "alphabetic", "fontSize": 24, "dx": -60, "dy": 48},
   "encoding": {"x": {"datum": 0, "type": "quantitative", "axis": null}, "y": {"datum": 0, "type": "quantitative", "axis": null}, "text": {"value": "(ω-ω"}}},
  {"data": {"values": [{}]}, "mark": {"type": "text", "align": "left", "baseline": "alphabetic", "fontSize": 16.5, "dx": -6, "dy": 56},
   "encoding": {"x": {"datum": 0, "type": "quantitative", "axis": null}, "y": {"datum": 0, "type": "quantitative", "axis": null}, "text": {"value": "MC"}}},
  {"data": {"values": [{}]}, "mark": {"type": "text", "align": "left", "baseline": "alphabetic", "fontSize": 24, "dx": 20, "dy": 48},
   "encoding": {"x": {"datum": 0, "type": "quantitative", "axis": null}, "y": {"datum": 0, "type": "quantitative", "axis": null}, "text": {"value": ")/σ"}}},
  {"data": {"values": [{}]}, "mark": {"type": "text", "align": "left", "baseline": "alphabetic", "fontSize": 16.5, "dx": 49, "dy": 54},
   "encoding": {"x": {"datum": 0, "type": "quantitative", "axis": null}, "y": {"datum": 0, "type": "quantitative", "axis": null}, "text": {"value": "ω"}}}
 ],
 "resolve": {"axis": {"x": "independent", "y": "independent"}}
},
{
 "width": 444, "height": 434,
 "layer": [
  {"data": {"name": "p5"}, "mark": {"type": "line", "interpolate": "step-after", "color": "#ff0000", "strokeWidth": 2, "clip": true},
   "encoding": {
    "x": {"field": "x", "type": "quantitative", "scale": {"domain": [-5, 5], "nice": false, "zero": false}, "axis": {"orient": "bottom", "values": [-4, -2, 0, 2, 4], "tickSize": -13, "labelPadding": 18.5, "title": null}},
    "y": {"field": "cepcsw", "type": "quantitative", "scale": {"domain": [0, 3370], "nice": false}, "axis": {"orient": "left", "values": [0, 1000, 2000, 3000], "tickSize": -13, "labelPadding": 16, "title": "Tracks", "titleAngle": 270, "titleAlign": "right", "titleBaseline": "alphabetic", "titleX": -34, "titleY": -1.5}}
   }},
  {"data": {"name": "p5"}, "mark": {"type": "line", "interpolate": "step-after", "color": "#0000ff", "strokeWidth": 2, "strokeDash": [2.5, 2.5], "clip": true},
   "encoding": {
    "x": {"field": "x", "type": "quantitative", "scale": {"domain": [-5, 5], "nice": false, "zero": false}, "axis": {"orient": "bottom", "values": [-4.5, -3.5, -3, -2.5, -1.5, -1, -0.5, 0.5, 1, 1.5, 2.5, 3, 3.5, 4.5], "tickSize": -6.5, "labels": false, "domain": false, "title": null}},
    "y": {"field": "marlin", "type": "quantitative", "scale": {"domain": [0, 3370], "nice": false}, "axis": {"orient": "left", "values": [200, 400, 600, 800, 1200, 1400, 1600, 1800, 2200, 2400, 2600, 2800, 3200], "tickSize": -7, "labels": false, "domain": false, "title": null}}
   }},
  {"data": {"values": [{}]}, "mark": {"type": "text", "align": "left", "baseline": "alphabetic", "fontSize": 24, "dx": -70, "dy": 48},
   "encoding": {"x": {"datum": 0, "type": "quantitative", "axis": null}, "y": {"datum": 0, "type": "quantitative", "axis": null}, "text": {"value": "(z0-z0"}}},
  {"data": {"values": [{}]}, "mark": {"type": "text", "align": "left", "baseline": "alphabetic", "fontSize": 16.5, "dx": -2, "dy": 56},
   "encoding": {"x": {"datum": 0, "type": "quantitative", "axis": null}, "y": {"datum": 0, "type": "quantitative", "axis": null}, "text": {"value": "MC"}}},
  {"data": {"values": [{}]}, "mark": {"type": "text", "align": "left", "baseline": "alphabetic", "fontSize": 24, "dx": 24, "dy": 48},
   "encoding": {"x": {"datum": 0, "type": "quantitative", "axis": null}, "y": {"datum": 0, "type": "quantitative", "axis": null}, "text": {"value": ")/σ"}}},
  {"data": {"values": [{}]}, "mark": {"type": "text", "align": "left", "baseline": "alphabetic", "fontSize": 16.5, "dx": 53, "dy": 54},
   "encoding": {"x": {"datum": 0, "type": "quantitative", "axis": null}, "y": {"datum": 0, "type": "quantitative", "axis": null}, "text": {"value": "z0"}}}
 ],
 "resolve": {"axis": {"x": "independent", "y": "independent"}}
},
{
 "width": 444, "height": 434,
 "layer": [
  {"data": {"name": "p6"}, "mark": {"type": "line", "interpolate": "step-after", "color": "#ff0000", "strokeWidth": 2, "clip": true},
   "encoding": {
    "x": {"field": "x", "type": "quantitative", "scale": {"domain": [-5, 5], "nice": false, "zero": false}, "axis": {"orient": "bottom", "values": [-4, -2, 0, 2, 4], "tickSize": -13, "labelPadding": 18.5, "title": null}},
    "y": {"field": "cepcsw", "type": "quantitative", "scale": {"domain": [0, 3543], "nice": false}, "axis": {"orient": "left", "values": [0, 1000, 2000, 3000], "tickSize": -13, "labelPadding": 16, "title": "Tracks", "titleAngle": 270, "titleAlign": "right", "titleBaseline": "alphabetic", "titleX": -34, "titleY": -1.5}}
   }},
  {"data": {"name": "p6"}, "mark": {"type": "line", "interpolate": "step-after", "color": "#0000ff", "strokeWidth": 2, "strokeDash": [2.5, 2.5], "clip": true},
   "encoding": {
    "x": {"field": "x", "type": "quantitative", "scale": {"domain": [-5, 5], "nice": false, "zero": false}, "axis": {"orient": "bottom", "values": [-4.5, -3.5, -3, -2.5, -1.5, -1, -0.5, 0.5, 1, 1.5, 2.5, 3, 3.5, 4.5], "tickSize": -6.5, "labels": false, "domain": false, "title": null}},
    "y": {"field": "marlin", "type": "quantitative", "scale": {"domain": [0, 3543], "nice": false}, "axis": {"orient": "left", "values": [200, 400, 600, 800, 1200, 1400, 1600, 1800, 2200, 2400, 2600, 2800, 3200, 3400], "tickSize": -7, "labels": false, "domain": false, "title": null}}
   }},
  {"data": {"values": [{}]}, "mark": {"type": "text", "align": "left", "baseline": "alphabetic", "fontSize": 24, "dx": -103, "dy": 48},
   "encoding": {"x": {"datum": 0, "type": "quantitative", "axis": null}, "y": {"datum": 0, "type": "quantitative", "axis": null}, "text": {"value": "(tanλ-tanλ"}}},
  {"data": {"values": [{}]}, "mark": {"type": "text", "align": "left", "baseline": "alphabetic", "fontSize": 16.5, "dx": 14, "dy": 56},
   "encoding": {"x": {"datum": 0, "type": "quantitative", "axis": null}, "y": {"datum": 0, "type": "quantitative", "axis": null}, "text": {"value": "MC"}}},
  {"data": {"values": [{}]}, "mark": {"type": "text", "align": "left", "baseline": "alphabetic", "fontSize": 24, "dx": 42, "dy": 48},
   "encoding": {"x": {"datum": 0, "type": "quantitative", "axis": null}, "y": {"datum": 0, "type": "quantitative", "axis": null}, "text": {"value": ")/σ"}}},
  {"data": {"values": [{}]}, "mark": {"type": "text", "align": "left", "baseline": "alphabetic", "fontSize": 16.5, "dx": 73, "dy": 54},
   "encoding": {"x": {"datum": 0, "type": "quantitative", "axis": null}, "y": {"datum": 0, "type": "quantitative", "axis": null}, "text": {"value": "tanλ"}}}
 ],
 "resolve": {"axis": {"x": "independent", "y": "independent"}}
}
]
}
